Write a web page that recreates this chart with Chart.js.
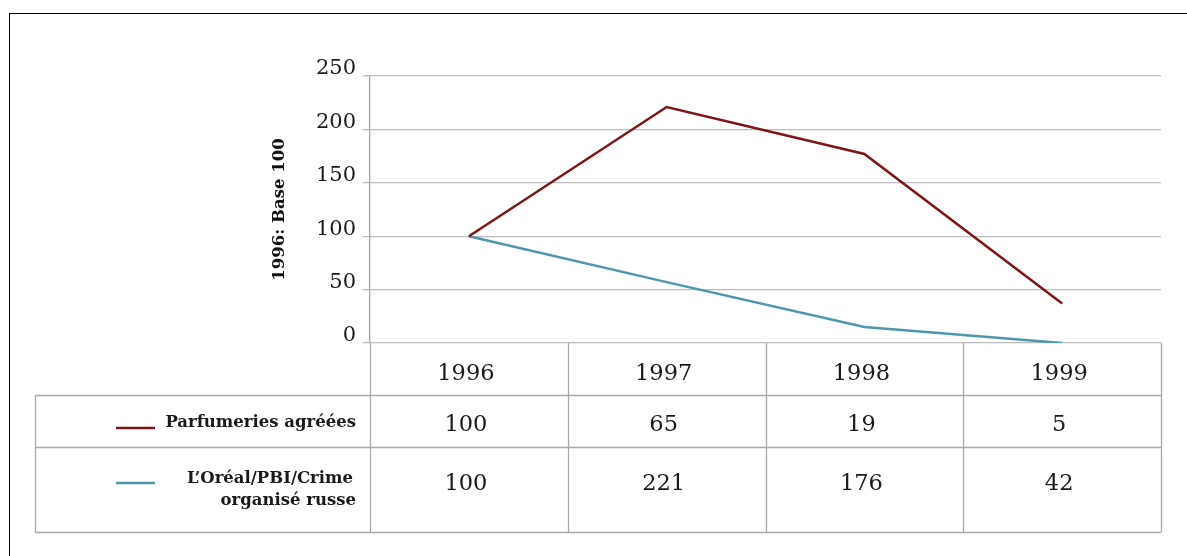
<!DOCTYPE html>
<html lang="fr">
<head>
<meta charset="utf-8">
<title>Parfumeries agréées et L’Oréal/PBI/Crime organisé russe</title>
<script src="https://cdn.jsdelivr.net/npm/chart.js@4.4.0/dist/chart.umd.min.js"></script>
<style>
  html, body { margin: 0; padding: 0; background: #fff; overflow: hidden; }
  #cadre { position: absolute; left: 9px; top: 13px; width: 1220px; height: 600px; border: 1px solid #000; }
  #graphique { position: absolute; left: 0; top: 0; }
</style>
</head>
<body>
<div id="cadre"></div>
<canvas id="graphique" width="1187" height="556"></canvas>
<script>
// --- DONNÉES ---
const annees = ['1996', '1997', '1998', '1999'];
// valeurs
const courbeRouge = [100, 221, 177, 37];
const courbeBleue = [100, 57, 15, 0];
// valeurs écrites dans le tableau
const tableauParfumeries = [100, 65, 19, 5];
const tableauLoreal = [100, 221, 176, 42];
const graduationsY = [0, 50, 100, 150, 200, 250];
const nomParfumeries = ['Parfumeries agréées'];
const nomLoreal = ['L’Oréal/PBI/Crime', 'organisé russe'];
const titreAxeY = '1996: Base 100';

// --- STYLE ---
const ROUGE = '#7c1618';
const BLEU = '#4f97ad';
const GRIS_TABLE = '#a9a9a9';
const POLICE = '"DejaVu Serif", serif';

// dessine le tableau de données sous le graphique, aligné sur l'axe des catégories
const tableauDonnees = {
  id: 'tableauDonnees',
  afterDraw(chart) {
    const ctx = chart.ctx;
    const x = chart.scales.x;
    const zone = chart.chartArea;
    const haut = zone.bottom;
    const yEntete = haut + 52;
    const yLigne1 = yEntete + 52;
    const yLigne2 = yLigne1 + 85;
    const gauche = 35;

    // bornes des colonnes
    const bornes = [zone.left];
    for (let i = 0; i < annees.length - 1; i++) {
      bornes.push((x.getPixelForValue(i) + x.getPixelForValue(i + 1)) / 2);
    }
    bornes.push(zone.right);

    ctx.save();
    ctx.strokeStyle = GRIS_TABLE;
    ctx.lineWidth = 1.3;
    ctx.beginPath();
    [yEntete, yLigne1, yLigne2].forEach(y => {
      ctx.moveTo(gauche, Math.round(y) + 0.5);
      ctx.lineTo(zone.right, Math.round(y) + 0.5);
    });
    ctx.moveTo(gauche + 0.5, yEntete);
    ctx.lineTo(gauche + 0.5, yLigne2);
    bornes.forEach(b => {
      ctx.moveTo(Math.round(b) + 0.5, haut);
      ctx.lineTo(Math.round(b) + 0.5, yLigne2);
    });
    ctx.stroke();

    // valeurs
    ctx.fillStyle = '#1a1a1a';
    ctx.textAlign = 'center';
    ctx.textBaseline = 'middle';
    ctx.font = '22.5px ' + POLICE;
    annees.forEach((a, i) => {
      const cx = x.getPixelForValue(i) - 3;
      ctx.fillText(a, cx, haut + 31);
      ctx.fillText(String(tableauParfumeries[i]), cx, yEntete + 30);
      ctx.fillText(String(tableauLoreal[i]), cx, yLigne1 + 37);
    });

    // légende dans la première colonne
    ctx.font = 'bold 16.5px ' + POLICE;
    ctx.textAlign = 'right';
    const droite = zone.left - 14;
    nomParfumeries.forEach((t, k) => ctx.fillText(t, droite, yEntete + 28 + k * 22));
    nomLoreal.forEach((t, k) => ctx.fillText(t, droite - (k === 0 ? 3 : 0), yLigne1 + 32 + k * 22));

    ctx.lineWidth = 2.5;
    ctx.strokeStyle = ROUGE;
    ctx.beginPath();
    ctx.moveTo(116, yEntete + 33);
    ctx.lineTo(155, yEntete + 33);
    ctx.stroke();
    ctx.strokeStyle = BLEU;
    ctx.beginPath();
    ctx.moveTo(116, yLigne1 + 36);
    ctx.lineTo(155, yLigne1 + 36);
    ctx.stroke();
    ctx.restore();
  }
};

new Chart(document.getElementById('graphique'), {
  type: 'line',
  data: {
    labels: annees,
    datasets: [
      {
        label: nomParfumeries.join(' '),
        data: courbeRouge,
        borderColor: ROUGE,
        borderWidth: 2.5,
        pointRadius: 0,
        tension: 0
      },
      {
        label: nomLoreal.join(' '),
        data: courbeBleue,
        borderColor: BLEU,
        borderWidth: 2.5,
        pointRadius: 0,
        tension: 0
      }
    ]
  },
  options: {
    responsive: false,
    animation: false,
    layout: { padding: { left: 270, right: 26, top: 76, bottom: 213 } },
    scales: {
      x: {
        display: false,
        offset: true
      },
      y: {
        min: 0,
        max: 250,
        afterBuildTicks: scale => { scale.ticks = graduationsY.map(v => ({ value: v })); },
        afterFit: scale => { scale.width = 370 - 270; },
        grid: { color: '#bdbdbd', lineWidth: 1.3, tickLength: 7, drawTicks: true },
        border: { display: true, color: '#a6a6a6', width: 1.3 },
        ticks: {
          color: '#1a1a1a',
          padding: 7,
          labelOffset: -7,
          font: { family: POLICE, size: 21 }
        },
        title: {
          display: true,
          text: titreAxeY,
          color: '#111',
          padding: { top: 0, bottom: 0 },
          font: { family: POLICE, size: 16.5, weight: 'bold' }
        }
      }
    },
    plugins: {
      legend: { display: false },
      tooltip: { enabled: false }
    }
  },
  plugins: [tableauDonnees]
});
</script>
</body>
</html>
